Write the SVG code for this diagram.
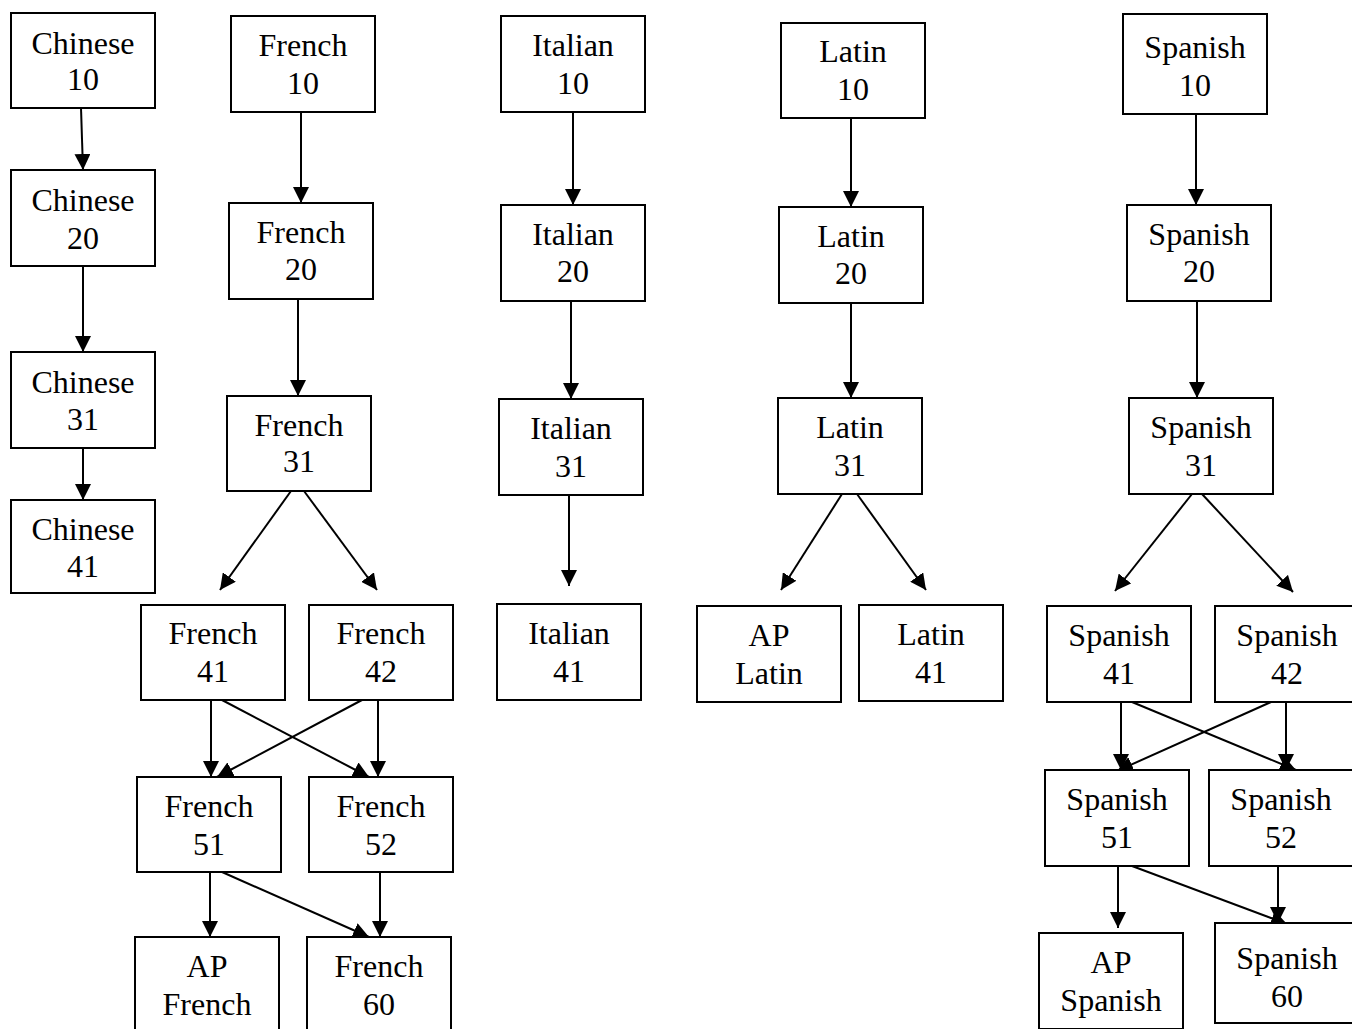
<svg xmlns="http://www.w3.org/2000/svg" width="1352" height="1029" viewBox="0 0 1352 1029">
<defs>
<style>
rect{fill:#fff;stroke:#000;stroke-width:2}
text{font-family:"Liberation Serif","Times New Roman",serif;font-size:32px;fill:#000;text-anchor:middle}
#connectors line{stroke:#000;stroke-width:2;marker-end:url(#ah)}
</style>
<marker id="ah" markerUnits="userSpaceOnUse" markerWidth="16" markerHeight="16" refX="16" refY="8" orient="auto" viewBox="0 0 16 16">
<path d="M0,0 L16,8 L0,16 z" fill="#000"/>
</marker>
</defs>
<rect x="0" y="0" width="1352" height="1029" style="fill:#fff;stroke:none"/>

<g id="connectors">
<line x1="81" y1="108" x2="83" y2="170"/>
<line x1="83" y1="266" x2="83" y2="352"/>
<line x1="83" y1="448" x2="83" y2="500"/>

<line x1="301" y1="112" x2="301" y2="203"/>
<line x1="298" y1="299" x2="298" y2="396"/>
<line x1="291" y1="491" x2="220" y2="590"/>
<line x1="304" y1="491" x2="377" y2="590"/>
<line x1="211" y1="700" x2="211" y2="777"/>
<line x1="378" y1="700" x2="378" y2="777"/>
<line x1="222" y1="700" x2="369" y2="777"/>
<line x1="362" y1="700" x2="217" y2="777"/>
<line x1="210" y1="872" x2="210" y2="937"/>
<line x1="222" y1="872" x2="369" y2="937"/>
<line x1="380" y1="872" x2="380" y2="937"/>

<line x1="573" y1="112" x2="573" y2="205"/>
<line x1="571" y1="301" x2="571" y2="399"/>
<line x1="569" y1="491" x2="569" y2="586"/>

<line x1="851" y1="115" x2="851" y2="207"/>
<line x1="851" y1="303" x2="851" y2="398"/>
<line x1="842" y1="494" x2="781" y2="590"/>
<line x1="857" y1="494" x2="926" y2="590"/>

<line x1="1196" y1="110" x2="1196" y2="205"/>
<line x1="1197" y1="301" x2="1197" y2="398"/>
<line x1="1192" y1="494" x2="1115" y2="591"/>
<line x1="1202" y1="494" x2="1293" y2="592"/>
<line x1="1121" y1="702" x2="1121" y2="770"/>
<line x1="1286" y1="702" x2="1286" y2="770"/>
<line x1="1132" y1="702" x2="1296" y2="770"/>
<line x1="1271" y1="702" x2="1117" y2="771"/>
<line x1="1118" y1="866" x2="1118" y2="928"/>
<line x1="1132" y1="866" x2="1287" y2="924"/>
<line x1="1278" y1="866" x2="1278" y2="923"/>
</g>

<g id="chinese10"><rect x="11" y="13" width="144" height="95"/><text x="83" y="54">Chinese</text><text x="83" y="90">10</text></g>
<g id="chinese20"><rect x="11" y="170" width="144" height="96"/><text x="83" y="211">Chinese</text><text x="83" y="249">20</text></g>
<g id="chinese31"><rect x="11" y="352" width="144" height="96"/><text x="83" y="393">Chinese</text><text x="83" y="430">31</text></g>
<g id="chinese41"><rect x="11" y="500" width="144" height="93"/><text x="83" y="540">Chinese</text><text x="83" y="577">41</text></g>

<g id="french10"><rect x="231" y="16" width="144" height="96"/><text x="303" y="56">French</text><text x="303" y="94">10</text></g>
<g id="french20"><rect x="229" y="203" width="144" height="96"/><text x="301" y="243">French</text><text x="301" y="280">20</text></g>
<g id="french31"><rect x="227" y="396" width="144" height="95"/><text x="299" y="436">French</text><text x="299" y="472">31</text></g>
<g id="french41"><rect x="141" y="605" width="144" height="95"/><text x="213" y="644">French</text><text x="213" y="682">41</text></g>
<g id="french42"><rect x="309" y="605" width="144" height="95"/><text x="381" y="644">French</text><text x="381" y="682">42</text></g>
<g id="french51"><rect x="137" y="777" width="144" height="95"/><text x="209" y="817">French</text><text x="209" y="855">51</text></g>
<g id="french52"><rect x="309" y="777" width="144" height="95"/><text x="381" y="817">French</text><text x="381" y="855">52</text></g>
<g id="apfrench"><rect x="135" y="937" width="144" height="96"/><text x="207" y="977">AP</text><text x="207" y="1015">French</text></g>
<g id="french60"><rect x="307" y="937" width="144" height="96"/><text x="379" y="977">French</text><text x="379" y="1015">60</text></g>

<g id="italian10"><rect x="501" y="16" width="144" height="96"/><text x="573" y="56">Italian</text><text x="573" y="94">10</text></g>
<g id="italian20"><rect x="501" y="205" width="144" height="96"/><text x="573" y="245">Italian</text><text x="573" y="282">20</text></g>
<g id="italian31"><rect x="499" y="399" width="144" height="96"/><text x="571" y="439">Italian</text><text x="571" y="477">31</text></g>
<g id="italian41"><rect x="497" y="604" width="144" height="96"/><text x="569" y="644">Italian</text><text x="569" y="682">41</text></g>

<g id="latin10"><rect x="781" y="23" width="144" height="95"/><text x="853" y="62">Latin</text><text x="853" y="100">10</text></g>
<g id="latin20"><rect x="779" y="207" width="144" height="96"/><text x="851" y="247">Latin</text><text x="851" y="284">20</text></g>
<g id="latin31"><rect x="778" y="398" width="144" height="96"/><text x="850" y="438">Latin</text><text x="850" y="476">31</text></g>
<g id="aplatin"><rect x="697" y="606" width="144" height="96"/><text x="769" y="646">AP</text><text x="769" y="684">Latin</text></g>
<g id="latin41"><rect x="859" y="605" width="144" height="96"/><text x="931" y="645">Latin</text><text x="931" y="683">41</text></g>

<g id="spanish10"><rect x="1123" y="14" width="144" height="100"/><text x="1195" y="58">Spanish</text><text x="1195" y="96">10</text></g>
<g id="spanish20"><rect x="1127" y="205" width="144" height="96"/><text x="1199" y="245">Spanish</text><text x="1199" y="282">20</text></g>
<g id="spanish31"><rect x="1129" y="398" width="144" height="96"/><text x="1201" y="438">Spanish</text><text x="1201" y="476">31</text></g>
<g id="spanish41"><rect x="1047" y="606" width="144" height="96"/><text x="1119" y="646">Spanish</text><text x="1119" y="684">41</text></g>
<g id="spanish42"><rect x="1215" y="606" width="144" height="96"/><text x="1287" y="646">Spanish</text><text x="1287" y="684">42</text></g>
<g id="spanish51"><rect x="1045" y="770" width="144" height="96"/><text x="1117" y="810">Spanish</text><text x="1117" y="848">51</text></g>
<g id="spanish52"><rect x="1209" y="770" width="144" height="96"/><text x="1281" y="810">Spanish</text><text x="1281" y="848">52</text></g>
<g id="apspanish"><rect x="1039" y="933" width="144" height="96"/><text x="1111" y="973">AP</text><text x="1111" y="1011">Spanish</text></g>
<g id="spanish60"><rect x="1215" y="923" width="144" height="100"/><text x="1287" y="969">Spanish</text><text x="1287" y="1007">60</text></g>
</svg>
